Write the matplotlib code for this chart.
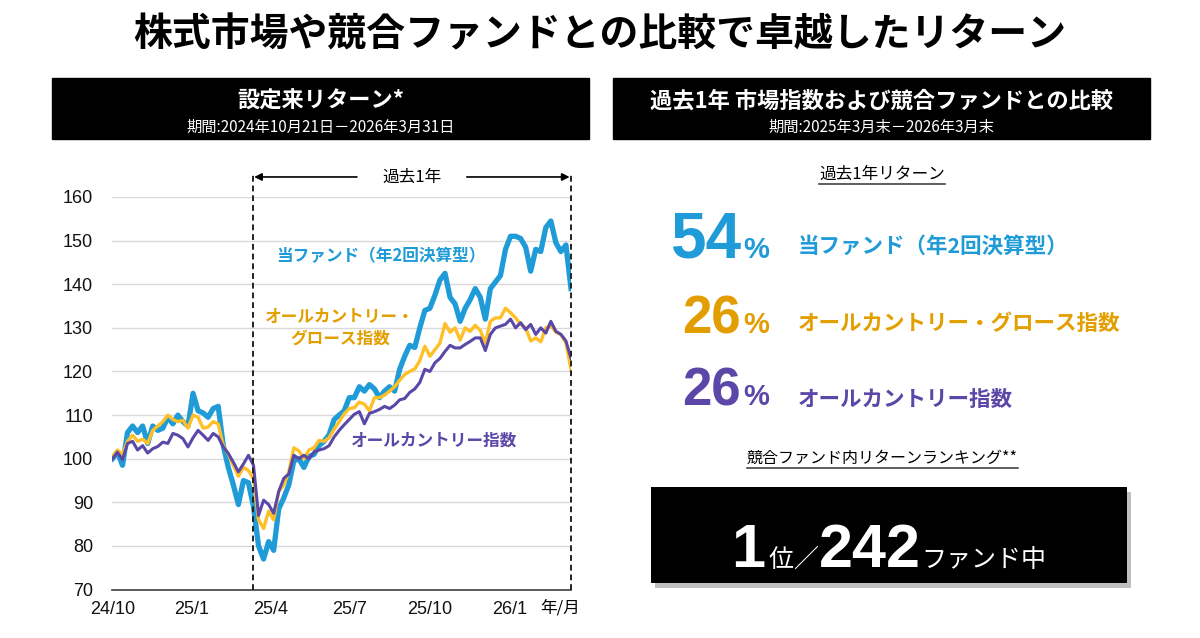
import matplotlib
matplotlib.use('Agg')
import matplotlib.pyplot as plt
import matplotlib.dates as mdates
import pandas as pd
from matplotlib.patches import Rectangle

JP = ['Noto Sans CJK JP', 'DejaVu Sans']
NUM = ['Liberation Sans', 'DejaVu Sans']
plt.rcParams['font.family'] = JP

BLUE = '#1f9bd7'
YELLOW = '#ffbf27'
ORANGE_TXT = '#e39f00'
PURPLE = '#5a47a7'

# --- data (index, start = 100) ---
start_date, end_date = '2024-10-21', '2026-03-31'
one_year_start = '2025-03-31'

fund = [100, 101.5, 98.5, 106, 107.5, 106, 107.5, 103.5, 107.5, 106.5,
        107, 109.5, 108, 110, 108.5, 107.5, 115, 111, 110.5, 109.5,
        111.5, 112, 103, 98, 94, 89.5, 95, 94.5, 89, 80,
        77, 81, 79, 88.5, 91, 94, 99.5, 100, 98, 100.5,
        101, 103, 104, 105.5, 109, 110, 111, 114, 114, 116.5,
        115.5, 117, 116, 114, 115.5, 116.5, 115.5, 120.5, 123.5, 126,
        125.5, 130, 134, 134.5, 137.5, 141, 142.5, 137, 135.5, 131.5,
        134.5, 136.5, 139, 137, 132, 139, 140.5, 142, 148, 151,
        151, 150.5, 148.5, 143, 148, 147.5, 153, 154.5, 149.5, 147.5,
        149, 139]

acwi_growth = [100.5, 102, 101, 104, 105.4, 104, 104.5, 103.5, 106.5, 107.5,
               108.5, 110, 109, 108.5, 108.8, 107, 110, 109.5, 107, 107.3,
               108.5, 108, 103, 101, 98.5, 96, 98, 97.3, 95.4, 86,
               84, 88, 86, 92.5, 94, 97, 102.5, 101.8, 100, 102,
               102.5, 104.2, 104, 104.8, 106.8, 108.5, 110.3, 111.5, 111.7, 113,
               112.5, 111, 114, 114, 114.6, 115.5, 116.5, 118, 119.3, 120,
               120.6, 122.5, 125.8, 123.5, 125, 126.5, 131, 129, 130, 127.2,
               130, 129.2, 130.6, 129.4, 126.5, 131.5, 132.3, 132.3, 134.5, 133.5,
               132.3, 130.8, 130, 127, 127.7, 126.8, 130, 130.5, 129, 128.5,
               126.5, 120.5]

acwi = [100, 101.5, 99.8, 103.5, 104, 102, 103, 101.3, 102.3, 102.8,
        103.8, 103.5, 105.8, 105.4, 104.6, 102.7, 104.8, 106.5, 105.4, 104.2,
        105.8, 105, 102.7, 101.2, 99.2, 97, 98.8, 100.8, 98.5, 87,
        90.5, 89.5, 87.5, 92.5, 95.5, 96.5, 100.8, 100, 100.8, 100,
        101.5, 102, 102.3, 103, 105, 106.5, 107.8, 109, 110.2, 110.8,
        108, 110.4, 110.8, 111.3, 112, 111.5, 112.3, 113.5, 113.8, 115.2,
        116, 117.5, 120.5, 120, 122, 123, 124.6, 126, 125.4, 125.4,
        126.2, 126.9, 127.7, 127.7, 124.8, 128.5, 130, 130.4, 130.8, 132,
        130, 131.2, 129.6, 130.8, 128.5, 130, 128.8, 131.5, 129.2, 128.5,
        127, 123]

tick_dates = ['2024-10-21', '2025-01-20', '2025-04-20', '2025-07-20', '2025-10-20', '2026-01-20']
tick_labels = ['24/10', '25/1', '25/4', '25/7', '25/10', '26/1']

names = ['当ファンド（年2回決算型）', 'オールカントリー・グロース指数', 'オールカントリー指数']
returns_1y = [54, 26, 26]
rank, n_funds = 1, 242

dates = pd.date_range(start_date, end_date, periods=len(fund))

fig = plt.figure(figsize=(12, 6.38), dpi=100)

# overlay in pixel coords
ov = fig.add_axes([0, 0, 1, 1], zorder=0)
ov.set_xlim(0, 1200)
ov.set_ylim(638, 0)
ov.axis('off')

ov.text(600, 35, '株式市場や競合ファンドとの比較で卓越したリターン', ha='center', va='center',
        fontsize=28, weight='bold')

# header boxes
for x0, title, sub in [(52, '設定来リターン*', '期間:2024年10月21日－2026年3月31日'),
                       (613, '過去1年 市場指数および競合ファンドとの比較', '期間:2025年3月末－2026年3月末')]:
    ov.add_patch(Rectangle((x0, 78), 537, 61, color='black'))
    ov.text(x0 + 268.5, 101, title, color='white', ha='center', va='center', fontsize=16, weight='bold')
    ov.text(x0 + 268.5, 127, sub, color='white', ha='center', va='center', fontsize=11)

# --- line chart ---
ax = fig.add_axes([112.4 / 1200, 1 - 589.6 / 638, 458.6 / 1200, 392.6 / 638], zorder=1)
ax.patch.set_alpha(0)
ax.plot(dates, fund, color=BLUE, lw=3.8, solid_joinstyle='round', zorder=3)
ax.plot(dates, acwi_growth, color=YELLOW, lw=2.4, solid_joinstyle='round', zorder=4)
ax.plot(dates, acwi, color=PURPLE, lw=2.2, solid_joinstyle='round', zorder=5)

ax.set_xlim(dates[0], dates[-1])
ax.set_ylim(70, 160)
yt = list(range(70, 161, 10))
ax.set_yticks(yt, labels=[str(v) for v in yt], fontfamily=NUM, fontsize=13)
ax.set_xticks(pd.to_datetime(tick_dates), labels=tick_labels, fontfamily=NUM, fontsize=13)
ax.tick_params(axis='both', length=0, colors='#111111')
ax.tick_params(axis='y', pad=14)
ax.tick_params(axis='x', pad=8)
ax.grid(axis='y', color='#d9d9d9', lw=1)
ax.set_axisbelow(True)
for s in ['left', 'right', 'top']:
    ax.spines[s].set_visible(False)
ax.spines['bottom'].set_color('#404040')
ax.spines['bottom'].set_linewidth(1.2)

ax.text(0.976, -0.047, '年/月', transform=ax.transAxes, ha='center', va='center', fontsize=12)

d1 = mdates.date2num(pd.Timestamp(one_year_start))
d2 = mdates.date2num(pd.Timestamp(end_date))
xt = ax.get_xaxis_transform()
for d in [d1, d2]:
    ax.plot([d, d], [0, 1.064], transform=xt, ls=(0, (3, 2)), color='#222222', lw=1.4,
            clip_on=False, zorder=6)
mid = (d1 + d2) / 2
ya = 1.051
gap = 63
for tip, tail in [(d1, mid - gap), (d2, mid + gap)]:
    ax.annotate('', xy=(tip, ya), xytext=(tail, ya), xycoords=xt, textcoords=xt,
                arrowprops=dict(arrowstyle='-|>', color='black', lw=1.2, mutation_scale=11,
                                shrinkA=0, shrinkB=1), annotation_clip=False)
ax.text(mid, ya, '過去1年', transform=xt, ha='center', va='center', fontsize=12)

ov.text(381, 256, names[0], color=BLUE, fontsize=12, weight='bold', ha='center', va='center')
ov.text(340, 328, 'オールカントリー・\nグロース指数', color=ORANGE_TXT, fontsize=12, weight='bold',
        ha='center', va='center', linespacing=1.25)
ov.text(434, 441, names[2], color=PURPLE, fontsize=12, weight='bold', ha='center', va='center')

# --- right panel ---
h1 = ov.text(882, 174, '過去1年リターン', fontsize=12, ha='center', va='center')
h2 = ov.text(882, 458, '競合ファンド内リターンランキング**', fontsize=11.5, ha='center', va='center')

num_colors = [BLUE, '#e29d00', PURPLE]
lbl_colors = [BLUE, ORANGE_TXT, PURPLE]
baselines = [258, 333, 405]
num_sizes = [46, 38, 38]
lbl_y = [246, 324, 400]
for v, nc, lc, b, ns, ly, nm in zip(returns_1y, num_colors, lbl_colors, baselines, num_sizes, lbl_y, names):
    ov.text(741, b, str(v), color=nc, ha='right', va='baseline', fontsize=ns, weight='bold', fontfamily=NUM)
    ov.text(743, b, '%', color=nc, ha='left', va='baseline', fontsize=21, weight='bold', fontfamily=NUM)
    ov.text(798, ly, nm, color=lc, ha='left', va='center', fontsize=15.5, weight='bold')

ov.add_patch(Rectangle((655, 492), 476, 96, color='#8c8c8c', alpha=0.55, lw=0))
ov.add_patch(Rectangle((651, 487), 476, 96, color='black', lw=0))

pieces = [(str(rank), 44, 'bold', NUM, 3),
          ('位', 18, 'normal', JP, 0),
          ('／', 18, 'normal', JP, 0),
          (str(n_funds), 44, 'bold', NUM, 1),
          ('ファンド中', 18, 'normal', JP, 0)]
texts = []
for s, fs, fw, ff, g in pieces:
    texts.append((ov.text(0, 567, s, color='white', ha='left', va='baseline', fontsize=fs,
                          weight=fw, fontfamily=ff), g))

fig.canvas.draw()
r = fig.canvas.get_renderer()
inv = ov.transData.inverted()
widths = []
for t, g in texts:
    bb = t.get_window_extent(r)
    widths.append(bb.width)
total = sum(widths) + sum(g for _, g in texts)
x = 889 - total / 2
for (t, g), w in zip(texts, widths):
    t.set_x(x)
    x += w + g

for t in [h1, h2]:
    bb = t.get_window_extent(r)
    (xa, ya0), (xb, yb0) = inv.transform([(bb.x0, bb.y0), (bb.x1, bb.y0)])
    ov.plot([xa, xb], [ya0 + 1.5, ya0 + 1.5], color='#333333', lw=1.1)

fig.savefig('out.png', dpi=100)
